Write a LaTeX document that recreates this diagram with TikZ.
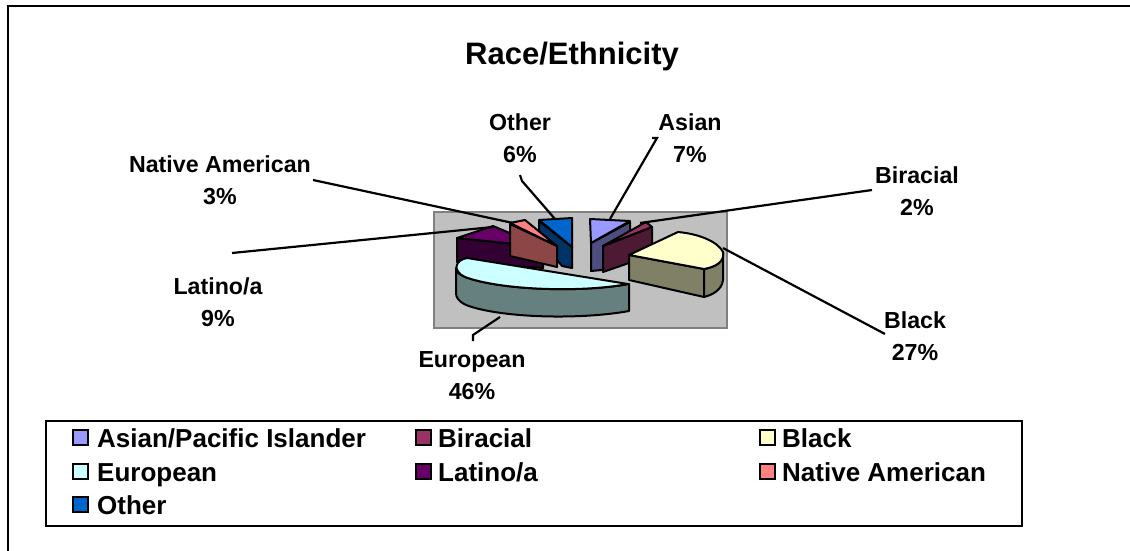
\documentclass[tikz,border=0pt]{standalone}
\usepackage{fontspec}
\setmainfont{Liberation Sans}
\begin{document}
\begin{tikzpicture}[x=1pt,y=-1pt,
  edge/.style={draw=black,line width=2pt,line join=round},
  leader/.style={draw=black,line width=2.2pt},
  lbl/.style={font=\bfseries\fontsize{23.2}{32}\selectfont,align=center,inner sep=0pt},
  legtext/.style={font=\bfseries\fontsize{26}{28}\selectfont,anchor=base west,inner sep=0pt},
  swatch/.style={draw=black,line width=2pt,minimum width=15pt,minimum height=15pt,inner sep=0pt}]
\definecolor{asianT}{HTML}{9999FF}\definecolor{asianS}{HTML}{4D4D80}
\definecolor{biraT}{HTML}{993366}\definecolor{biraS}{HTML}{4D1A33}
\definecolor{blackT}{HTML}{FFFFCC}\definecolor{blackS}{HTML}{808066}
\definecolor{euroT}{HTML}{CCFFFF}\definecolor{euroS}{HTML}{668080}
\definecolor{latT}{HTML}{660066}\definecolor{latS}{HTML}{330033}
\definecolor{natT}{HTML}{FF8080}\definecolor{natS}{HTML}{8C4646}
\definecolor{othT}{HTML}{0066CC}\definecolor{othS}{HTML}{003366}
\definecolor{plotbg}{HTML}{C0C0C0}\definecolor{plotedge}{HTML}{808080}

\useasboundingbox (0,0) rectangle (1130,551);
\fill[white] (0,0) rectangle (1130,551);
% outer chart frame
\draw[line width=2.2pt] (8,551) -- (8,6) -- (1130,6);

% title
\node[font=\bfseries\fontsize{31}{36}\selectfont] (title) at (572,56) {Race/Ethnicity};

% plot area
\draw[fill=plotbg,draw=plotedge,line width=2pt] (434,212) rectangle (727,328);

% leader anchors on the slices
\coordinate (pNat) at (513,223);
\coordinate (pLat) at (493,227);
\coordinate (pOth) at (555,219);
\coordinate (pAsi) at (610,219);
\coordinate (pBir) at (640,223);
\coordinate (pBla) at (723,248);
\coordinate (pEur) at (500,317);

% slice: Other
\path[edge,fill=othS] (539,221) -- (572,247) -- (572,268) -- (562,266) -- (539,238) -- cycle;
\path[edge,fill=othT] (539,220) -- (572,218) -- (572,247) -- cycle;
% slice: Latino/a
\path[edge,fill=latS] (457,238) -- (543,247) -- (543,268) -- (457,262) -- cycle;
\path[edge,fill=latT] (457,238) -- (493,226) -- (543,247) -- cycle;
% slice: Native American
\path[edge,fill=natS] (510,224) -- (557,246) -- (557,267) -- (510,256) -- cycle;
\path[edge,fill=natT] (510,223) -- (525,220) -- (557,246) -- cycle;
% slice: Asian
\path[edge,fill=asianS] (591,243) -- (630,222) -- (630,250) -- (602,270) -- (591,271) -- cycle;
\path[edge,fill=asianT] (590,219) -- (630,221) -- (591,243) -- cycle;
% slice: Biracial
\path[edge,fill=biraS] (603,246) -- (652,227) -- (652,255) -- (603,272) -- cycle;
\path[edge,fill=biraT] (603,246) -- (646,222) -- (652,227) -- cycle;
% slice: Black
\path[edge,fill=blackS] (629,255) -- (704,269) -- (704,297) -- (629,280) -- cycle;
\path[edge,fill=blackS] (704,269) .. controls (715,267) and (725,262) .. (723,252)
  -- (723,280) .. controls (722,290) and (712,295) .. (704,297) -- cycle;
\path[edge,fill=blackT] (629,255) -- (678,232) .. controls (700,234) and (718,242) .. (723,252)
  .. controls (725,262) and (715,267) .. (704,269) -- cycle;
% slice: European
\path[edge,fill=euroS] (629,284) -- (629,311) .. controls (580,320) and (500,318) .. (466,305)
  .. controls (458,301) and (456,297) .. (456,293) -- (456,268)
  .. controls (456,272) and (460,275) .. (465,277)
  .. controls (500,290) and (580,293) .. (629,284) -- cycle;
\path[edge,fill=euroT] (467,258) -- (628,284) .. controls (580,293) and (500,290) .. (465,277)
  .. controls (452,271) and (455,260) .. (467,258) -- cycle;

% data labels
\node[lbl] (lNat) at (220,180) {Native American\\3\%};
\node[lbl] (lOth) at (520,138) {Other\\6\%};
\node[lbl] (lAsi) at (690,138) {Asian\\7\%};
\node[lbl] (lBir) at (917,191) {Biracial\\2\%};
\node[lbl] (lBla) at (915,336) {Black\\27\%};
\node[lbl] (lEur) at (472,376) {European\\46\%};
\node[lbl] (lLat) at (218,302) {Latino/a\\9\%};

% leader lines
\coordinate (sNat) at (313,180);
\coordinate (sLat) at (232,253);
\coordinate (sOth) at (520,175);
\coordinate (sAsi) at (652,138);
\coordinate (sBir) at (872,190);
\coordinate (sBla) at (885,334);
\coordinate (sEur) at (473,341);
\draw[leader] (sNat) -- (pNat);
\draw[leader] (sLat) -- (pLat);
\draw[leader] (sOth) -- ++(2,6) -- (pOth);
\draw[leader] (sAsi) -- ++(5,0) -- (pAsi);
\draw[leader] (sBir) -- (pBir);
\draw[leader] (pBla) -- (sBla);
\draw[leader] (sEur) -- ++(0,-6) -- (pEur);

% legend
\draw[line width=2.2pt] (46,421) rectangle (1022,526);
\node[swatch,fill=asianT] (k1) at (80,437) {};
\node[legtext] (t1) at (97,447) {Asian/Pacific Islander};
\node[swatch,fill=biraT] (k2) at (423,437) {};
\node[legtext] (t2) at (438,447) {Biracial};
\node[swatch,fill=blackT] (k3) at (767,437) {};
\node[legtext] (t3) at (782,447) {Black};
\node[swatch,fill=euroT] (k4) at (80,471) {};
\node[legtext] (t4) at (97,481) {European};
\node[swatch,fill=latT] (k5) at (423,471) {};
\node[legtext] (t5) at (438,481) {Latino/a};
\node[swatch,fill=natT] (k6) at (767,471) {};
\node[legtext] (t6) at (782,481) {Native American};
\node[swatch,fill=othT] (k7) at (80,504) {};
\node[legtext] (t7) at (97,514) {Other};
\end{tikzpicture}
\end{document}
